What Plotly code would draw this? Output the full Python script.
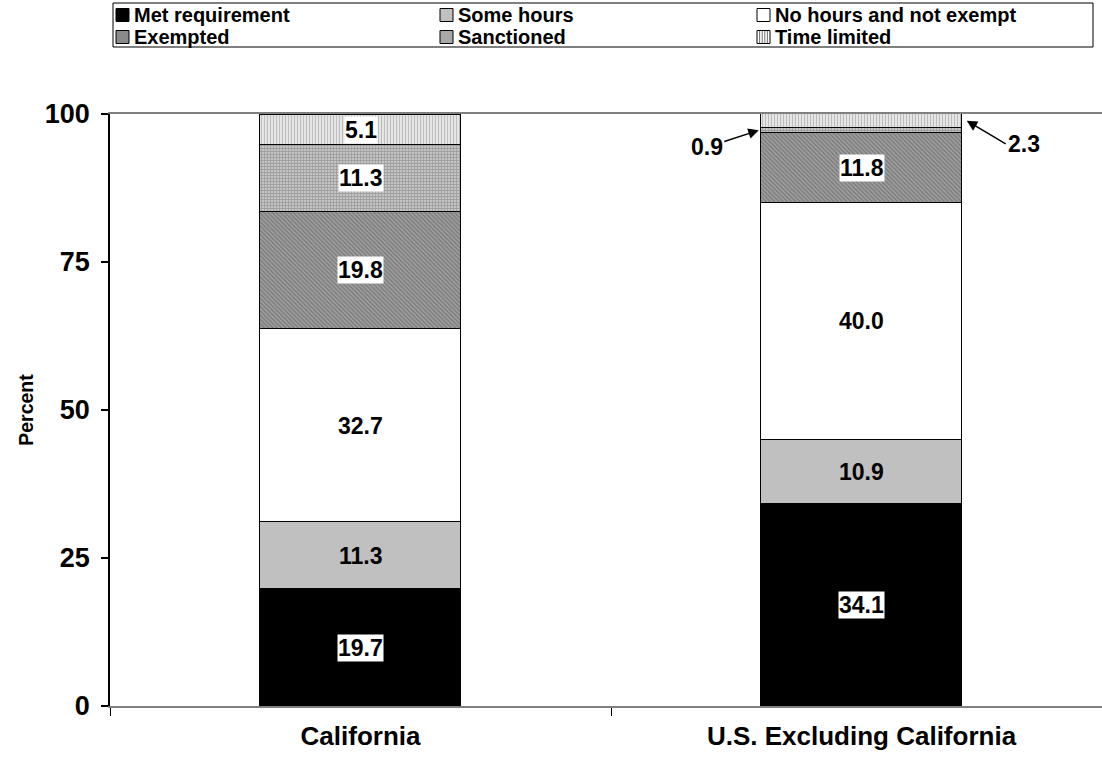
import plotly.graph_objects as go

# Share of adults by work-requirement status
regions = ["California", "U.S. Excluding California"]
statuses = ["Met requirement", "Some hours", "No hours and not exempt",
            "Exempted", "Sanctioned", "Time limited"]
met_requirement = [19.7, 34.1]
some_hours = [11.3, 10.9]
no_hours = [32.7, 40.0]
exempted = [19.8, 11.8]
sanctioned = [11.3, 0.9]
time_limited = [5.1, 2.3]
y_ticks = [0, 25, 50, 75, 100]

series = [met_requirement, some_hours, no_hours, exempted, sanctioned, time_limited]

FONT = "Liberation Sans, Arial, sans-serif"
W, H = 1102, 759
ML, MR, MT, MB = 110, 0, 114, 53

styles = [
    dict(color="#000000"),
    dict(color="#c0c0c0"),
    dict(color="#ffffff"),
    dict(color="#a0a0a0", pattern=dict(shape="\\", fgcolor="#505050", size=3,
                                       solidity=0.45, fillmode="overlay")),
    dict(color="#c4c4c4", pattern=dict(shape="+", fgcolor="#6e6e6e", size=3,
                                       solidity=0.45, fillmode="overlay")),
    dict(color="#ffffff", pattern=dict(shape="|", fgcolor="#7a7a7a", size=3,
                                       solidity=0.6, fillmode="overlay")),
]
# flat tones for the legend swatches
swatch_fill = ["#000000", "#c0c0c0", "#ffffff", "#8a8a8a", "#a8a8a8", "#ffffff"]

xpos = list(range(len(regions)))
fig = go.Figure()
for name, vals, st in zip(statuses, series, styles):
    marker = dict(color=st["color"], line=dict(color="#000000", width=1.5))
    if "pattern" in st:
        marker["pattern"] = st["pattern"]
    fig.add_trace(go.Bar(x=xpos, y=vals, name=name, width=0.4, marker=marker,
                         hoverinfo="skip", showlegend=False))

# Labels: white boxes on dark / patterned segments, arrows for thin slivers
boxed = {0, 3, 4, 5}
label_font = dict(family=FONT, size=23, color="#000000", weight="bold")
for ri in xpos:
    base = 0.0
    for si, vals in enumerate(series):
        v = vals[ri]
        mid = base + v / 2
        txt = f"{v:.1f}"
        if v < 4:
            if si == 4:
                fig.add_annotation(x=ri - 0.205, y=mid, text=txt, showarrow=True,
                                   ax=-52, ay=17, arrowhead=2, arrowsize=1.4,
                                   arrowwidth=1.5, arrowcolor="#000000",
                                   font=label_font)
            else:
                fig.add_annotation(x=ri + 0.21, y=mid, text=txt, showarrow=True,
                                   ax=39, ay=23, xanchor="left", yanchor="middle",
                                   arrowhead=2, arrowsize=1.4,
                                   arrowwidth=1.5, arrowcolor="#000000",
                                   font=label_font)
        else:
            fig.add_annotation(x=ri, y=mid, text=txt, showarrow=False,
                               font=label_font,
                               bgcolor="#ffffff" if si in boxed else "rgba(0,0,0,0)",
                               borderpad=0)
        base += v


# Legend box drawn in paper coordinates (converted from pixel positions)
def px_x(px):
    return (px - ML) / (W - ML - MR)


def px_y(py):
    return (H - MB - py) / (H - MT - MB)


fig.add_shape(type="rect", xref="paper", yref="paper",
              x0=px_x(113), x1=px_x(1093), y0=px_y(47), y1=px_y(3),
              line=dict(color="#000000", width=1), fillcolor="#ffffff")
col_x = [116, 440, 757]
row_y = [15, 37]
for i, name in enumerate(statuses):
    cx = col_x[i % 3]
    cy = row_y[i // 3]
    fig.add_shape(type="rect", xref="paper", yref="paper",
                  x0=px_x(cx), x1=px_x(cx + 13), y0=px_y(cy + 6.5), y1=px_y(cy - 6.5),
                  line=dict(color="#000000", width=1), fillcolor=swatch_fill[i])
    if i == 5:
        for k in range(1, 5):
            lx = cx + k * 2.6
            fig.add_shape(type="line", xref="paper", yref="paper",
                          x0=px_x(lx), x1=px_x(lx), y0=px_y(cy + 6), y1=px_y(cy - 6),
                          line=dict(color="#707070", width=1))
    fig.add_annotation(xref="paper", yref="paper", x=px_x(cx + 16), y=px_y(cy),
                       text=name, showarrow=False, xanchor="left", yanchor="middle",
                       font=dict(family=FONT, size=20, color="#000000", weight="bold"))

fig.update_layout(
    barmode="stack",
    width=W, height=H,
    margin=dict(l=ML, r=MR, t=MT, b=MB),
    paper_bgcolor="#ffffff", plot_bgcolor="#ffffff",
    font=dict(family=FONT, color="#000000"),
    showlegend=False,
    bargap=0,
)

fig.update_xaxes(
    range=[-0.5, 1.48], tickmode="array", tickvals=xpos, ticktext=regions,
    ticks="", showline=True, linecolor="#808080", linewidth=1.5, mirror=True,
    showgrid=False, zeroline=False,
    tickfont=dict(family=FONT, size=26, color="#000000", weight="bold"),
    ticklabelstandoff=6,
    minor=dict(tickmode="array", tickvals=[-0.5, 0.5], ticks="outside",
               ticklen=8, tickcolor="#000000", tickwidth=1),
)
fig.update_yaxes(
    range=[0, 100], tickmode="array", tickvals=y_ticks, ticks="outside",
    ticklen=7, tickcolor="#000000", tickwidth=1.5,
    showline=True, linecolor="#000000", linewidth=1.5,
    showgrid=False, zeroline=False,
    tickfont=dict(family=FONT, size=27, color="#000000", weight="bold"),
    ticklabelstandoff=6,
    title=dict(text="Percent", standoff=6,
               font=dict(family=FONT, size=19.5, color="#000000", weight="bold")),
)

fig.write_html("out.html")
